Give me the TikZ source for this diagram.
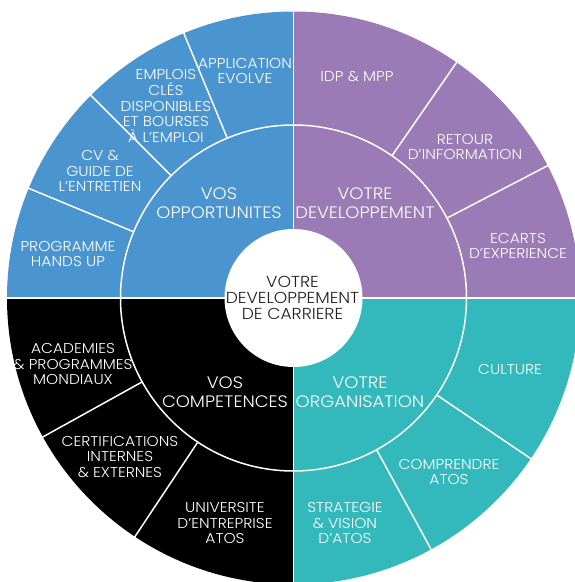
\documentclass[tikz,border=0pt]{standalone}
\usepackage{fontspec}
\setmainfont{Poppins}[UprightFont=* Light, FakeStretch=1.08]
\usepackage{tikz}

\definecolor{oppblue}{HTML}{4A94CF}
\definecolor{devpurple}{HTML}{9B7BB6}
\definecolor{orgteal}{HTML}{33B8BC}
\definecolor{compblack}{HTML}{000000}
\definecolor{coretext}{HTML}{231F20}

\tikzset{
  outlabel/.style={text=white, align=center, inner sep=0pt, font=\fontsize{14.3}{15.7}\selectfont},
  inlabel/.style={text=white, align=center, inner sep=0pt, font=\fontsize{16.6}{19}\selectfont},
  corelabel/.style={text=coretext, align=center, inner sep=0pt, font=\fontsize{15.9}{15.8}\selectfont},
  sep/.style={draw=white, line width=1.5pt}
}

\begin{document}
\begin{tikzpicture}[x=1pt,y=1pt]
\useasboundingbox (-293.5,-284) rectangle (281.5,298);
\clip (-293.5,-284) rectangle (281.5,298);
% quadrants
\fill[oppblue] (0,0) -- (90:286.5) arc (90:180:286.5) -- cycle;
\fill[devpurple] (0,0) -- (0:286.5) arc (0:90:286.5) -- cycle;
\fill[compblack] (0,0) -- (180:286.5) arc (180:270:286.5) -- cycle;
\fill[orgteal] (0,0) -- (270:286.5) arc (270:360:286.5) -- cycle;
% separators
\draw[sep] (-290,0) -- (290,0);
\draw[sep] (0,-290) -- (0,290);
\draw[sep] (0,0) circle (173);
\draw[sep] (157.5:173) -- (157.5:290);
\draw[sep] (135:173) -- (135:290);
\draw[sep] (112.5:173) -- (112.5:290);
\draw[sep] (55.3:173) -- (55.3:290);
\draw[sep] (27.5:173) -- (27.5:290);
\draw[sep] (209:173) -- (209:290);
\draw[sep] (236.4:173) -- (236.4:290);
\draw[sep] (298.7:173) -- (298.7:290);
\draw[sep] (325.9:173) -- (325.9:290);
\fill[white] (0,0) circle (69);
% centre
\node[corelabel] (core) at (-1,0) {VOTRE\\DEVELOPPEMENT\\DE CARRIERE};
% vos opportunites
\node[inlabel] (opp) at (-74.5,95) {VOS\\OPPORTUNITES};
\node[outlabel] (hands) at (-225.5,44) {PROGRAMME\\HANDS UP};
\node[outlabel] (cv) at (-193.5,127) {CV \&\\GUIDE DE\\L'ENTRETIEN};
\node[outlabel] (emplois) at (-127.5,192) {EMPLOIS\\CLÉS\\DISPONIBLES\\ET BOURSES\\À L'EMPLOI};
\node[outlabel] (evolve) at (-48.5,227) {APPLICATION\\EVOLVE};
% votre developpement
\node[inlabel] (dev) at (71.5,95) {VOTRE\\DEVELOPPEMENT};
\node[outlabel] (idp) at (63.5,221) {IDP \& MPP};
\node[outlabel] (retour) at (171.5,151) {RETOUR\\D'INFORMATION};
\node[outlabel] (ecarts) at (224.5,52) {ECARTS\\D'EXPERIENCE};
% vos competences
\node[inlabel] (comp) at (-68.5,-94) {VOS\\COMPETENCES};
\node[outlabel] (academies) at (-220.5,-66) {ACADEMIES\\\& PROGRAMMES\\MONDIAUX};
\node[outlabel] (certif) at (-173.5,-159) {CERTIFICATIONS\\INTERNES\\\& EXTERNES};
\node[outlabel] (univ) at (-68.5,-225) {UNIVERSITE\\D'ENTREPRISE\\ATOS};
% votre organisation
\node[inlabel] (org) at (66.5,-94) {VOTRE\\ORGANISATION};
\node[outlabel] (culture) at (216.5,-71) {CULTURE};
\node[outlabel] (comprendre) at (155.5,-174) {COMPRENDRE\\ATOS};
\node[outlabel] (strategie) at (51.5,-225) {STRATEGIE\\\& VISION\\D'ATOS};
\end{tikzpicture}
\end{document}
